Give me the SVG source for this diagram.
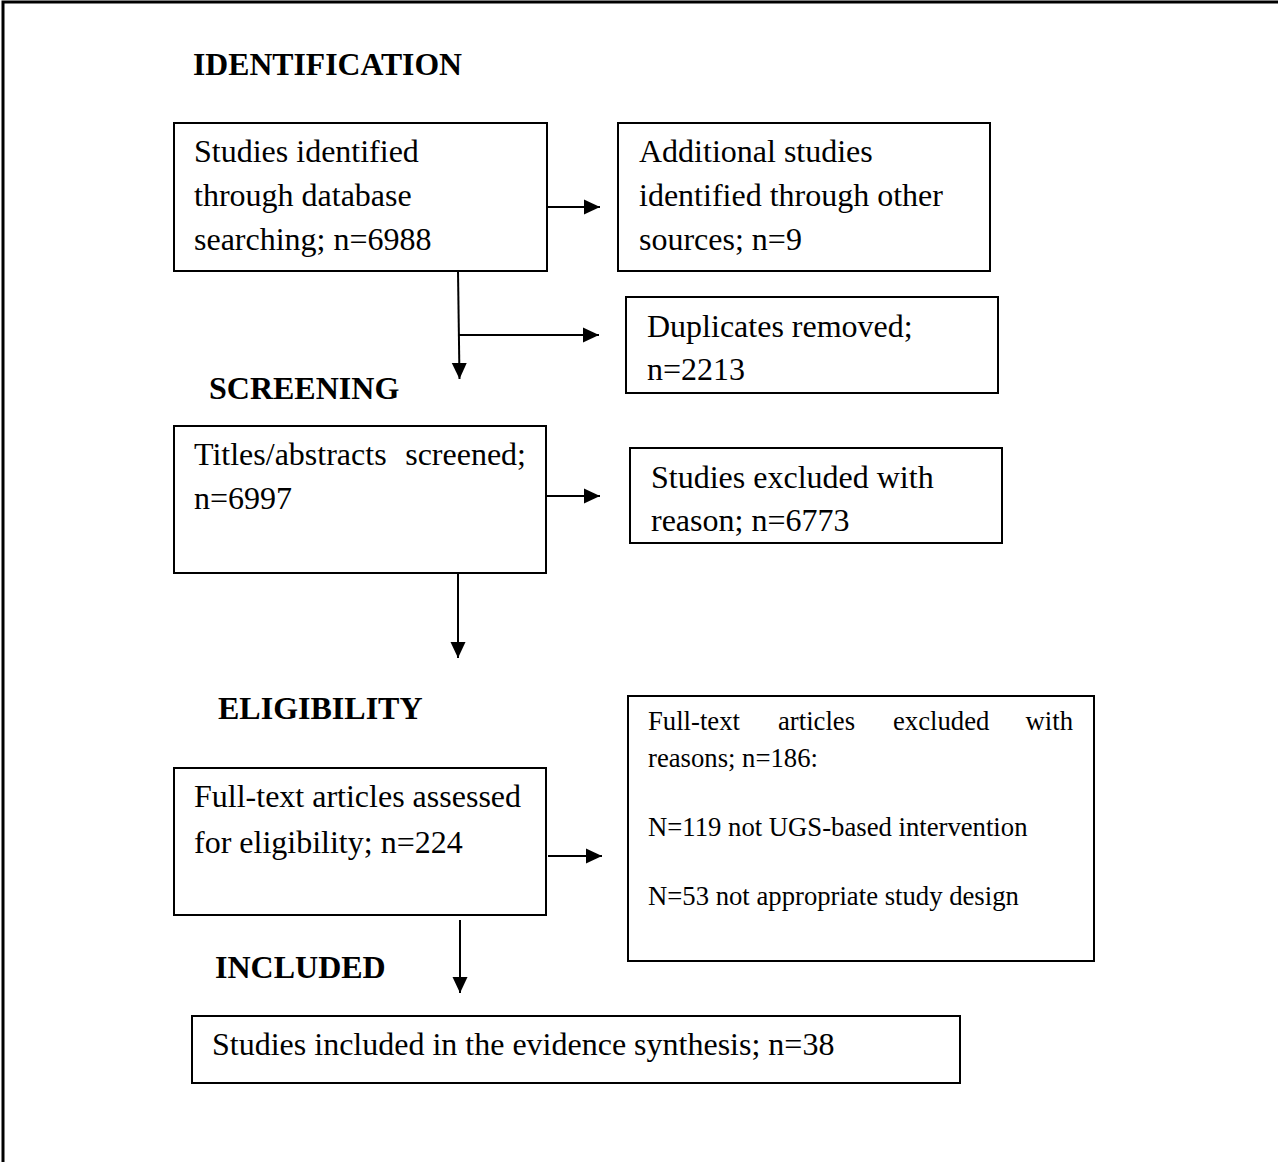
<svg xmlns="http://www.w3.org/2000/svg" width="1278" height="1162" viewBox="0 0 1278 1162">
<style>
.box{fill:#fff;stroke:#000;stroke-width:2}
.t{font-family:"Liberation Serif","Times New Roman",serif;font-size:32px;fill:#000}
.s{font-family:"Liberation Serif","Times New Roman",serif;font-size:26.7px;fill:#000}
.h{font-family:"Liberation Serif","Times New Roman",serif;font-size:32px;font-weight:bold;fill:#000}
.c{fill:none;stroke:#000;stroke-width:2}
</style>
<defs>
<marker id="ah" markerUnits="userSpaceOnUse" markerWidth="17" markerHeight="16" refX="16" refY="8" orient="auto">
<path d="M0,0.5 L16,8 L0,15.5 Z" fill="#000"/>
</marker>
</defs>
<rect width="1278" height="1162" fill="#fff"/>
<path d="M3,1162 V2 H1278" fill="none" stroke="#000" stroke-width="3"/>

<g id="labels">
<text class="h" x="193" y="75" textLength="269" lengthAdjust="spacingAndGlyphs">IDENTIFICATION</text>
<text class="h" x="209" y="399">SCREENING</text>
<text class="h" x="218" y="719">ELIGIBILITY</text>
<text class="h" x="215" y="978">INCLUDED</text>
</g>

<g id="connectors">
<line class="c" x1="547" y1="207" x2="600" y2="207" marker-end="url(#ah)"/>
<line class="c" x1="458" y1="271" x2="459.5" y2="379" marker-end="url(#ah)"/>
<line class="c" x1="459" y1="335" x2="599" y2="335" marker-end="url(#ah)"/>
<line class="c" x1="547" y1="496" x2="600" y2="496" marker-end="url(#ah)"/>
<line class="c" x1="458" y1="573" x2="458" y2="658" marker-end="url(#ah)"/>
<line class="c" x1="548" y1="856" x2="602" y2="856" marker-end="url(#ah)"/>
<line class="c" x1="460" y1="920" x2="460" y2="993" marker-end="url(#ah)"/>
</g>

<g id="n1">
<rect class="box" x="174" y="123" width="373" height="148"/>
<text class="t" x="194" y="162">Studies identified</text>
<text class="t" x="194" y="206">through database</text>
<text class="t" x="194" y="250">searching; n=6988</text>
</g>

<g id="n2">
<rect class="box" x="618" y="123" width="372" height="148"/>
<text class="t" x="639" y="162">Additional studies</text>
<text class="t" x="639" y="206">identified through other</text>
<text class="t" x="639" y="250">sources; n=9</text>
</g>

<g id="n3">
<rect class="box" x="626" y="297" width="372" height="96"/>
<text class="t" x="647" y="337">Duplicates removed;</text>
<text class="t" x="647" y="380">n=2213</text>
</g>

<g id="n4">
<rect class="box" x="174" y="426" width="372" height="147"/>
<text class="t" x="194" y="465">Titles/abstracts</text>
<text class="t" x="526" y="465" text-anchor="end">screened;</text>
<text class="t" x="194" y="509">n=6997</text>
</g>

<g id="n5">
<rect class="box" x="630" y="448" width="372" height="95"/>
<text class="t" x="651" y="488">Studies excluded with</text>
<text class="t" x="651" y="531">reason; n=6773</text>
</g>

<g id="n6">
<rect class="box" x="628" y="696" width="466" height="265"/>
<text class="s" x="648" y="730">Full-text</text>
<text class="s" x="778" y="730">articles</text>
<text class="s" x="893" y="730">excluded</text>
<text class="s" x="1073" y="730" text-anchor="end">with</text>
<text class="s" x="648" y="767">reasons; n=186:</text>
<text class="s" x="648" y="836">N=119 not UGS-based intervention</text>
<text class="s" x="648" y="905">N=53 not appropriate study design</text>
</g>

<g id="n7">
<rect class="box" x="174" y="768" width="372" height="147"/>
<text class="t" x="194" y="807">Full-text articles assessed</text>
<text class="t" x="194" y="853">for eligibility; n=224</text>
</g>

<g id="n8">
<rect class="box" x="192" y="1016" width="768" height="67"/>
<text class="t" x="212" y="1055">Studies included in the evidence synthesis; n=38</text>
</g>
</svg>
